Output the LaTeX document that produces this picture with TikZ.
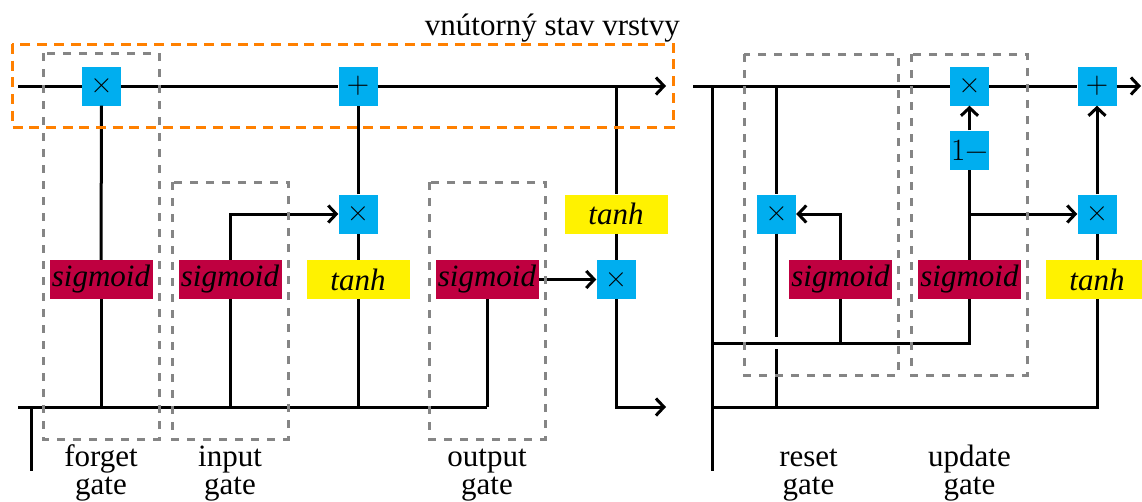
\documentclass[tikz,border=0pt]{standalone}
\usepackage{fontspec}
\setmainfont{Liberation Serif}
\newfontfamily\opfont{Latin Modern Roman}
\usetikzlibrary{arrows.meta}
\definecolor{opblue}{HTML}{00AEEF}
\definecolor{sigred}{HTML}{BF0040}
\definecolor{tanhyel}{HTML}{FFF200}
\definecolor{stateorange}{HTML}{FF8000}
\definecolor{gatebox}{HTML}{858585}
\begin{document}
\begin{tikzpicture}[x=1pt,y=-1pt,
  font=\fontsize{31}{28}\selectfont,
  wire/.style={line width=3pt},
  flow/.style={wire,-{Straight Barb[length=8pt,width=17pt]}},
  op/.style={fill=opblue,minimum size=39pt,inner sep=0pt,font=\fontsize{31}{31}\opfont},
  act/.style={minimum width=103pt,minimum height=39pt,inner sep=0pt},
  sig/.style={act,fill=sigred},
  tnh/.style={act,fill=tanhyel},
  gatefr/.style={draw=gatebox,line width=3pt,dash pattern=on 8pt off 8pt},
  statefr/.style={draw=stateorange,line width=3pt,dash pattern=on 10pt off 6.7pt},
  gatelbl/.style={align=center,anchor=north,inner sep=0pt}
]
\useasboundingbox (0,0) rectangle (1142,501);
\clip (0,0) rectangle (1142,501);

% ---------------- LSTM cell ----------------
\node[op] (fgx) at (101.5,86) {×};
\node[op] (add1) at (358,86) {+};
\node[op] (inx) at (358,214) {×};
\node[sig] (fsig) at (101,279.5) {\textit{sigmoid}};
\node[sig] (isig) at (230,279.5) {\textit{sigmoid}};
\node[tnh] (itanh) at (358,279.5) {\textit{tanh}};
\node[sig] (osig) at (487,279.5) {\textit{sigmoid}};
\node[op] (ox) at (616,279.5) {×};
\node[tnh] (otanh) at (616,214) {\textit{tanh}};

\coordinate (cin) at (18,86);
\coordinate (cout) at (666,86);
\coordinate (ctap) at (616,86);
\coordinate (hin) at (18,407);
\coordinate (hend) at (487,407);
\coordinate (xtop) at (31,407);
\coordinate (xbot) at (31,471);
\coordinate (hout) at (666,407);

% cell state line
\draw[wire] (cin) -- (fgx.west);
\draw[wire] (fgx.east) -- (add1.west);
\draw[flow] (add1.east) -- (cout);
% shared input line
\draw[wire] (hin) -- (hend);
\draw[wire] (xtop) -- (xbot);
% forget gate
\draw[wire] (fsig.south) -- (fsig.south |- hin);
\draw[wire] (fsig.north) -- (fgx.south);
% input gate
\draw[wire] (isig.south) -- (isig.south |- hin);
\draw[flow] (isig.north) |- (inx.west);
\draw[wire] (itanh.south) -- (itanh.south |- hin);
\draw[wire] (itanh.north) -- (inx.south);
\draw[wire] (inx.north) -- (add1.south);
% output gate
\draw[wire] (osig.south) -- (hend);
\draw[flow] (osig.east) -- (ox.west);
\draw[wire] (ctap) -- (otanh.north);
\draw[wire] (otanh.south) -- (ox.north);
\draw[flow] (ox.south) |- (hout);

% ---------------- GRU cell ----------------
\node[op] (rx) at (776.5,214) {×};
\node[sig] (rsig) at (840.5,279.5) {\textit{sigmoid}};
\node[sig] (usig) at (969.5,279.5) {\textit{sigmoid}};
\node[op] (om) at (969.5,150) {1−};
\node[op] (ux) at (969.5,86) {×};
\node[op] (add2) at (1097,86) {+};
\node[op] (hx) at (1097,214) {×};
\node[tnh] (htanh) at (1097,279.5) {\textit{tanh}};

\coordinate (gin) at (693,86);
\coordinate (gout) at (1141,86);
\coordinate (xtop2) at (712,86);
\coordinate (xbot2) at (712,471);
\coordinate (rtap) at (776.5,86);
\coordinate (gmid) at (712,343);
\coordinate (glow) at (712,407);
\coordinate (rgap1) at (776.5,337);
\coordinate (rgap2) at (776.5,349);
\coordinate (rlow) at (776.5,407);
\coordinate (ubr) at (969.5,214);

\draw[wire] (gin) -- (ux.west);
\draw[wire] (ux.east) -- (add2.west);
\draw[flow] (add2.east) -- (gout);
\draw[wire] (xtop2) -- (xbot2);
% reset gate
\draw[wire] (rtap) -- (rx.north);
\draw[wire] (rx.south) -- (rgap1);
\draw[wire] (rgap2) -- (rlow);
\draw[wire] (gmid) -| (usig.south);
\draw[wire] (rsig.south) -- (rsig.south |- gmid);
\draw[flow] (rsig.north) |- (rx.east);
% update gate
\draw[wire] (usig.north) -- (om.south);
\draw[flow] (om.north) -- (ux.south);
\draw[flow] (ubr) -- (hx.west);
% candidate state
\draw[wire] (glow) -| (htanh.south);
\draw[wire] (htanh.north) -- (hx.south);
\draw[flow] (hx.north) -- (add2.south);

% ---------------- frames and labels ----------------
\draw[statefr] (12,44) rectangle (673,127);
\node[anchor=base east,inner sep=0pt] (statelbl) at (680,35) {vnútorný stav vrstvy};

\draw[gatefr] (43,53) rectangle (159,439);
\draw[gatefr] (172,182) rectangle (288,439);
\draw[gatefr] (429,182) rectangle (545,439);
\draw[gatefr] (744,54) rectangle (898,375);
\draw[gatefr] (911,54) rectangle (1027,375);

\node[gatelbl] (flbl) at (101,444) {\vphantom{fd}forget\\gate};
\node[gatelbl] (ilbl) at (230,444) {\vphantom{fd}input\\gate};
\node[gatelbl] (olbl) at (487,444) {\vphantom{fd}output\\gate};
\node[gatelbl] (rlbl) at (808.5,444) {\vphantom{fd}reset\\gate};
\node[gatelbl] (ulbl) at (969.5,444) {\vphantom{fd}update\\gate};
\end{tikzpicture}
\end{document}
